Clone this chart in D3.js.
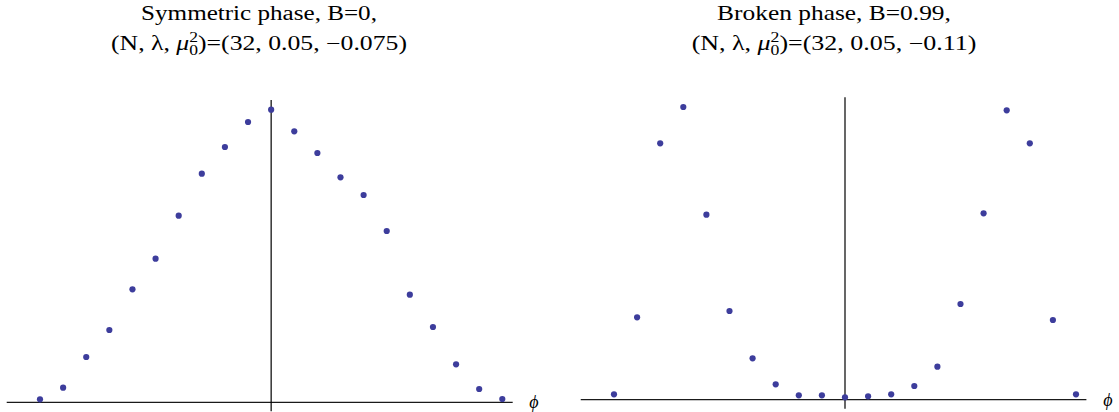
<!DOCTYPE html>
<html>
<head>
<meta charset="utf-8">
<script src="https://cdn.jsdelivr.net/npm/d3@7"></script>
<style>
  body { margin: 0; background: #fff; }
  text { font-family: "Liberation Serif", "Times New Roman", serif; fill: #000; }
</style>
</head>
<body>
<div id="plot"></div>
<script>
// phi index, symmetric around 0
var phi = d3.range(-10, 11);
// heights of the distribution (arbitrary units)
var symValues = [3, 14.6, 45.3, 72.3, 113, 143.6, 186.6, 228.6, 255.3, 280.3, 292.6,
                 271, 249.3, 225, 207.3, 171.3, 107.6, 75.3, 38, 13.3, 3.3];
var brokenValues = [5.4, 82.4, 256.4, 292.7, 185, 88.7, 41.4, 15.4, 4.4, 4.4, 2.4,
                    3.4, 5.4, 13.7, 33, 95.7, 186.4, 289.4, 256.4, 79.7, 5.4];
var titles = [
  {line1: "Symmetric phase, B=0,", params: "32, 0.05, \u22120.075", w1: 236, w2: 296},
  {line1: "Broken phase, B=0.99,", params: "32, 0.05, \u22120.11", w1: 234, w2: 285}
];

var width = 1119, height = 412;
var svg = d3.select("#plot").append("svg")
  .attr("width", width)
  .attr("height", height);

var panels = [
  {values: symValues, x0: 40, x1: 502.3, y0: 402.3, title: titles[0], cx: 259, phiX: 534, phiY: 408},
  {values: brokenValues, x0: 614, x1: 1076, y0: 399.7, title: titles[1], cx: 834, phiX: 1108, phiY: 406}
];

panels.forEach(function(p){
  var x = d3.scaleLinear().domain([-10, 10]).range([p.x0, p.x1]);
  var y = d3.scaleLinear().domain([0, 300]).range([p.y0, p.y0 - 300]);
  var g = svg.append("g");

  // axes through the origin
  g.append("line")
    .attr("x1", x(-11.44)).attr("x2", x(10.45))
    .attr("y1", y(0)).attr("y2", y(0))
    .attr("stroke", "#1a1a1a").attr("stroke-width", 1.2);
  g.append("line")
    .attr("x1", x(0)).attr("x2", x(0))
    .attr("y1", y(302.4)).attr("y2", y(-9))
    .attr("stroke", "#000").attr("stroke-width", 1.2);

  g.append("text")
    .attr("x", p.phiX).attr("y", p.phiY)
    .attr("text-anchor", "middle")
    .style("font-style", "italic")
    .style("font-size", "18px")
    .text("\u03d5");

  g.selectAll("circle")
    .data(p.values)
    .enter().append("circle")
    .attr("cx", function(d, i){ return x(phi[i]); })
    .attr("cy", function(d){ return y(d); })
    .attr("r", 3.1)
    .attr("fill", "#3d3d9c");

  // two line title
  var t1 = g.append("text")
    .attr("text-anchor", "middle")
    .style("font-size", "20.5px")
    .text(p.title.line1);
  fit(t1, p.cx, 19.5, p.title.w1);

  var t2 = g.append("text")
    .attr("text-anchor", "middle")
    .style("font-size", "20.5px");
  t2.append("tspan").text("(N, \u03bb, ");
  t2.append("tspan").style("font-style", "italic").text("\u03bc");
  t2.append("tspan").attr("dy", -8).style("font-size", "14px").text("2");
  t2.append("tspan").attr("dx", -7).attr("dy", 13).style("font-size", "14px").text("0");
  t2.append("tspan").attr("dy", -5).text(")=(" + p.title.params + ")");
  fit(t2, p.cx, 49.5, p.title.w2);
});

// stretch a text horizontally to the measured width of the reference
function fit(sel, cx, baseline, w){
  var bw = sel.node().getBBox().width;
  sel.attr("transform", "translate(" + cx + "," + baseline + ") scale(" + (w / bw) + ",1)");
}
</script>
</body>
</html>
